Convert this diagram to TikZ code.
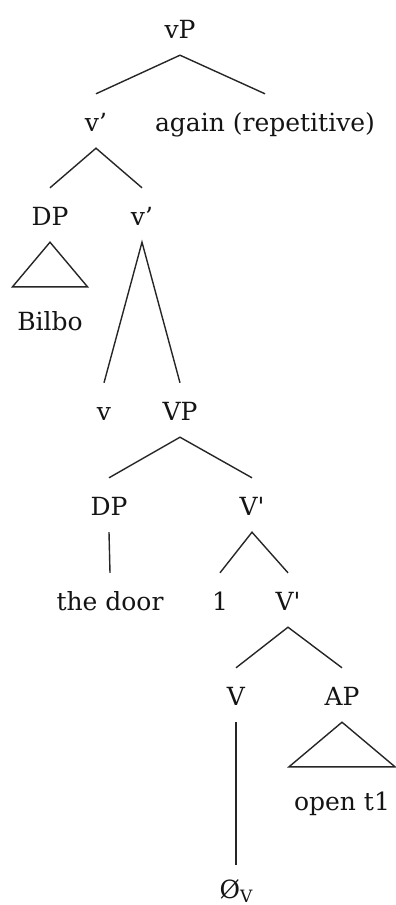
\documentclass[tikz,border=0pt]{standalone}
\usepackage{fontspec}
\setmainfont{DejaVu Serif}[Ligatures=TeXOff]
\begin{document}
\begin{tikzpicture}[x=1pt,y=-1pt,
  every node/.style={inner sep=0pt, anchor=base, font=\fontsize{25}{29}\selectfont, text=black!92},
  tn/.style={text height=37pt, text depth=17pt},
  roofleaf/.style={text height=43pt, text depth=0pt},
  zeroleaf/.style={text height=33pt, text depth=0pt},
  edge/.style={draw=black!85, line width=1.4pt},
]
\useasboundingbox (0,0) rectangle (396,905);
% nodes
\node[tn] (vP) at (180,38) {vP};
\node[tn] (vbar1) at (96,131) {v’};
\node[tn] (again) at (265,131) {again (repetitive)};
\node[tn] (DP1) at (50,225) {DP};
\node[tn] (vbar2) at (142,225) {v’};
\node[roofleaf] (bilbo) at (50,330) {Bilbo};
\node[tn] (v) at (104,420) {v};
\node[tn] (VP) at (180,420) {VP};
\node[tn] (DP2) at (109,515) {DP};
\node[tn] (Vbar1) at (252,515) {V'};
\node[tn] (door) at (110,610) {the door};
\node[tn] (one) at (220,610) {1};
\node[tn] (Vbar2) at (288,610) {V'};
\node[tn] (V) at (236,705) {V};
\node[tn] (AP) at (342,705) {AP};
\node[roofleaf] (open) at (342,810) {open t1};
\node[zeroleaf] (zero) at (236,898) {Ø\raisebox{-4pt}{\fontsize{17}{17}\selectfont V}};
% edges
\draw[edge] (vbar1.north) -- (vP.south) -- (again.north);
\draw[edge] (DP1.north) -- (vbar1.south) -- (vbar2.north);
\draw[edge] (v.north) -- (vbar2.south) -- (VP.north);
\draw[edge] (DP2.north) -- (VP.south) -- (Vbar1.north);
\draw[edge] (DP2.south) -- (door.north);
\draw[edge] (one.north) -- (Vbar1.south) -- (Vbar2.north);
\draw[edge] (V.north) -- (Vbar2.south) -- (AP.north);
\draw[edge] (V.south) -- (zero.north);
% roofs
\draw[edge, line join=miter] (DP1.south) -- ([xshift=-37.5pt]bilbo.north) -- ([xshift=37.5pt]bilbo.north) -- cycle;
\draw[edge, line join=miter] (AP.south) -- ([xshift=-53pt]open.north) -- ([xshift=53pt]open.north) -- cycle;
\end{tikzpicture}
\end{document}
